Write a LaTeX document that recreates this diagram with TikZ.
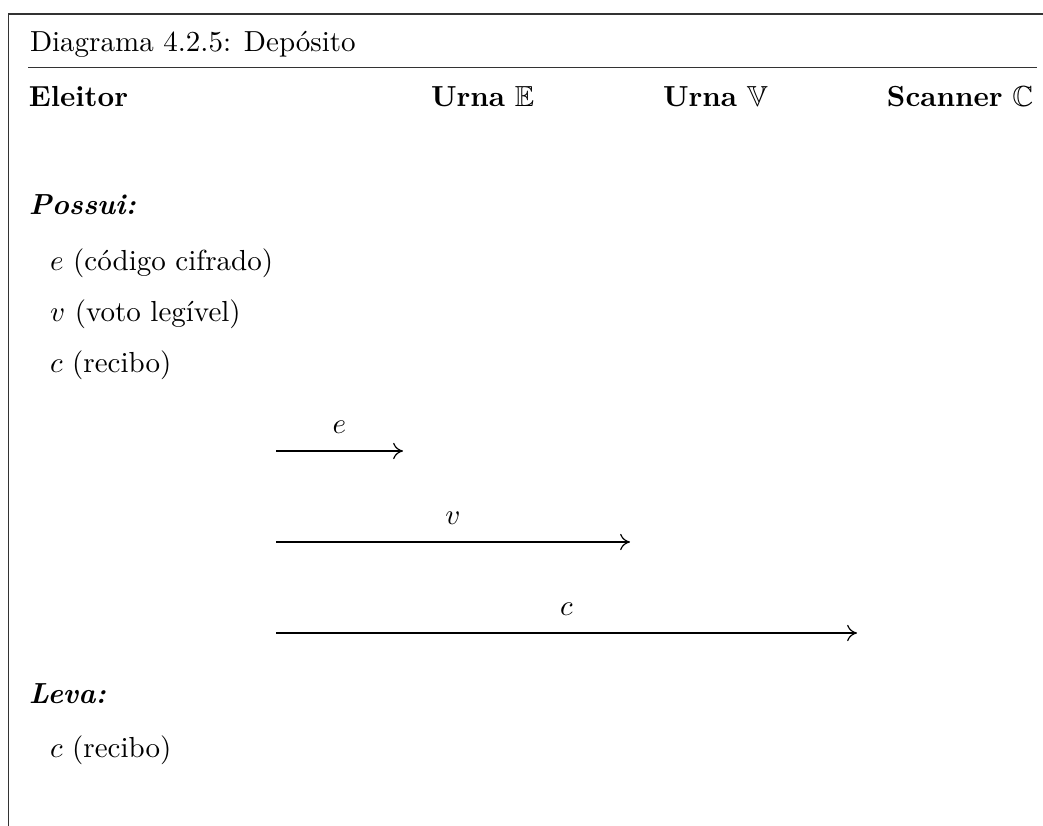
\documentclass[tikz,border=0pt]{standalone}
\usepackage{amssymb}
\usetikzlibrary{arrows.meta}
\begin{document}
\begin{tikzpicture}[x=0.3448pt,y=-0.3448pt,
  txt/.style={anchor=base west,inner sep=0pt,outer sep=0pt},
  msg/.style={-{Computer Modern Rightarrow[length=3.4pt,width=5.6pt]},line width=0.4pt},
  lbl/.style={above=5.8pt,inner sep=0pt},
  frame/.style={line width=0.45pt,draw=black!80}]
\useasboundingbox (0,0) rectangle (1043,826);
% frame
\coordinate (tl) at (8.5,14);
\coordinate (tr) at (1043,14);
\coordinate (bl) at (8.5,826);
\draw[frame] (tr) -- (tl) -- (bl);
% title
\node[txt] (title) at (30,51.7) {Diagrama 4.2.5: Depósito};
\coordinate (sepl) at (28,67.7);
\coordinate (sepr) at (1037,67.7);
\draw[frame] (sepl) -- (sepr);
% header
\node[txt] (eleitor) at (29,106.7) {\textbf{Eleitor}};
\node[txt] (urnaE) at (431,106.7) {\textbf{Urna} $\mathbb{E}$};
\node[txt] (urnaV) at (663,106.7) {\textbf{Urna} $\mathbb{V}$};
\node[txt] (scan) at (887,106.7) {\textbf{Scanner} $\mathbb{C}$};
% possui
\node[txt] (possui) at (29,215) {\textbf{\textit{Possui:}}};
\node[txt] (pe) at (50,271) {$e$ (código cifrado)};
\node[txt] (pv) at (50,322) {$v$ (voto legível)};
\node[txt] (pc) at (50,373) {$c$ (recibo)};
% messages
\coordinate (e0) at (276,451);
\coordinate (e1) at (403,451);
\coordinate (v0) at (276,542);
\coordinate (v1) at (630,542);
\coordinate (c0) at (276,633);
\coordinate (c1) at (857,633);
\draw[msg] (e0) -- node[lbl] (le) {$e$} (e1);
\draw[msg] (v0) -- node[lbl] (lv) {$v$} (v1);
\draw[msg] (c0) -- node[lbl] (lc) {$c$} (c1);
% leva
\node[txt] (leva) at (29,704) {\textbf{\textit{Leva:}}};
\node[txt] (lvc) at (50,758) {$c$ (recibo)};
\end{tikzpicture}
\end{document}
